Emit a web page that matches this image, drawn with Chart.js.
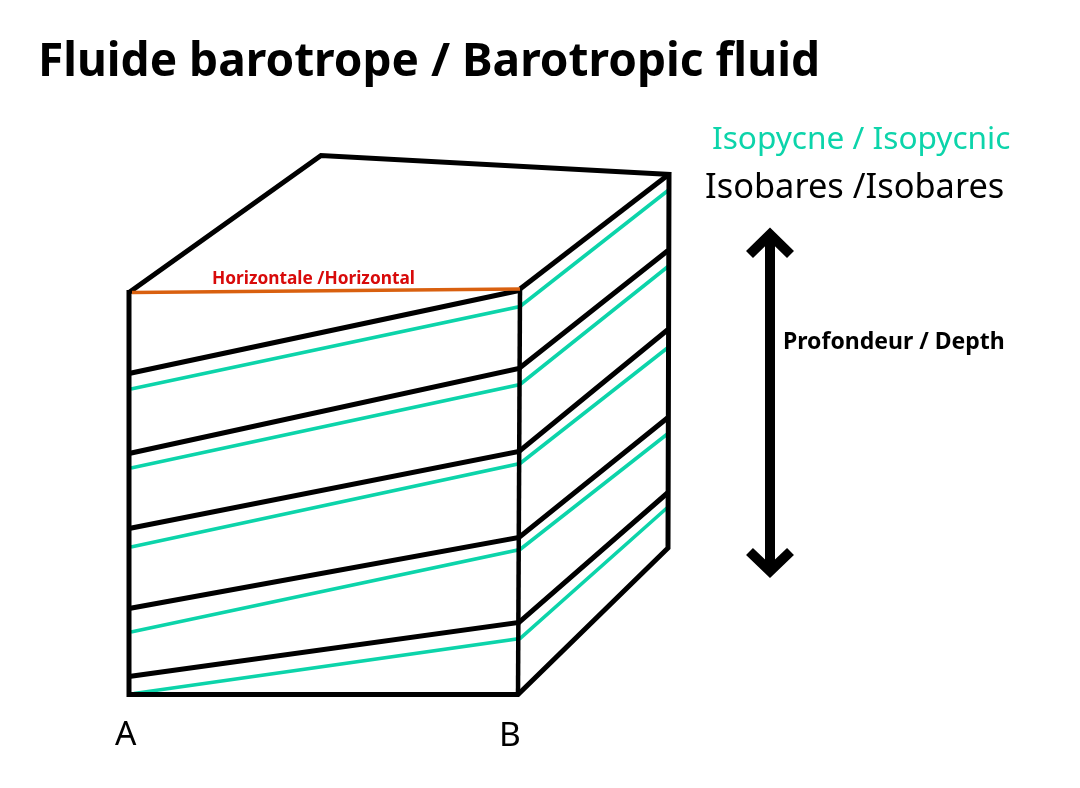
<!DOCTYPE html>
<html><head><meta charset="utf-8">
<style>html,body{margin:0;padding:0;background:#fff}#w{width:1080px;height:788px;position:relative}</style>
<script src="https://cdn.jsdelivr.net/npm/chart.js@4"></script></head>
<body><div id="w"><canvas id="c" width="1080" height="788"></canvas></div>
<script>
const BLACK='#000000', TEAL='#0cd4aa', ORANGE='#d9600f';
const blockTop=[[129,292.5],[321,155.5],[671,174.5]];
const blockFrontAndSide=[[669,172],[668,548],[518,694.5],[129,694.5],[129,290]];
const frontEdge=[[520,289],[518,694]];
const topDiagonal=[[520,289],[668,175]];
const horizontalLine=[[132,292.5],[520,289]];
const isobarLines=[
 [[129,373.5],[519,290.5]],
 [[129,453.5],[519,368.5],[668,250.5]],
 [[129,528.5],[519,451.5],[668,329.5]],
 [[129,608.5],[519,537.5],[668,417.5]],
 [[129,676.5],[519,622.5],[668,492.5]]];
const isopycnicLines=[
 [[131,389],[520,306.5],[668,190.5]],
 [[131,468],[520,384.5],[668,266.5]],
 [[131,547],[520,463.5],[668,347.5]],
 [[131,632],[520,549.5],[668,433.5]],
 [[134,693.5],[520,638.5],[668,507]]];
const depthShaft=[[770,238],[770,567]];
const depthHeadTop=[[749.5,254.5],[770,234.5],[790.5,254.5]];
const depthHeadBottom=[[749.5,551.5],[770,571],[790.5,551.5]];
const labels=[
 {t:'Fluide barotrope / Barotropic fluid',x:38,y:75.5,f:'bold 46px "Noto Sans"',c:'#000'},
 {t:'Isopycne / Isopycnic',x:712,y:149,f:'31.6px "Noto Sans"',c:TEAL},
 {t:'Isobares /Isobares',x:705,y:198,f:'34.4px "Noto Sans"',c:'#000'},
 {t:'Profondeur / Depth',x:783,y:348.5,f:'bold 23px "Noto Sans"',c:'#000'},
 {t:'Horizontale /Horizontal',x:212,y:283.5,f:'bold 17.3px "Noto Sans"',c:'#d80a0a'},
 {t:'A',x:115,y:745,f:'33.5px "Noto Sans"',c:'#000'},
 {t:'B',x:499,y:746,f:'33.5px "Noto Sans"',c:'#000'}];
const toPts=a=>a.map(([x,y])=>({x,y}));
const ds=(a,color,w,cap,join)=>({data:toPts(a),borderColor:color,borderWidth:w,showLine:true,pointRadius:0,fill:false,tension:0,borderCapStyle:cap||'butt',borderJoinStyle:join||'miter'});
// Chart.js paints the first dataset on top, so order is top layer first
const datasets=[
 ds(depthShaft,BLACK,10),ds(depthHeadTop,BLACK,10),ds(depthHeadBottom,BLACK,10),
 ds(horizontalLine,ORANGE,3.5),
 ds(blockTop,BLACK,5),ds(blockFrontAndSide,BLACK,5),ds(frontEdge,BLACK,4.5),ds(topDiagonal,BLACK,5),
 ...isobarLines.map(a=>ds(a,BLACK,5)),
 ...isopycnicLines.map(a=>ds(a,TEAL,3.6))];
const textPlugin={id:'text',afterDatasetsDraw(ch){const g=ch.ctx,sx=ch.scales.x,sy=ch.scales.y;g.save();g.textBaseline='alphabetic';g.textAlign='left';
 labels.forEach(l=>{g.font=l.f;g.fillStyle=l.c;g.fillText(l.t,sx.getPixelForValue(l.x),sy.getPixelForValue(l.y));});g.restore();}};
new Chart(document.getElementById('c'),{type:'scatter',data:{datasets},plugins:[textPlugin],options:{
 responsive:false,animation:false,layout:{padding:0},
 plugins:{legend:{display:false},tooltip:{enabled:false},title:{display:false}},
 scales:{x:{type:'linear',min:0,max:1080,display:false},y:{type:'linear',min:0,max:788,reverse:true,display:false}}}});
</script></body></html>
